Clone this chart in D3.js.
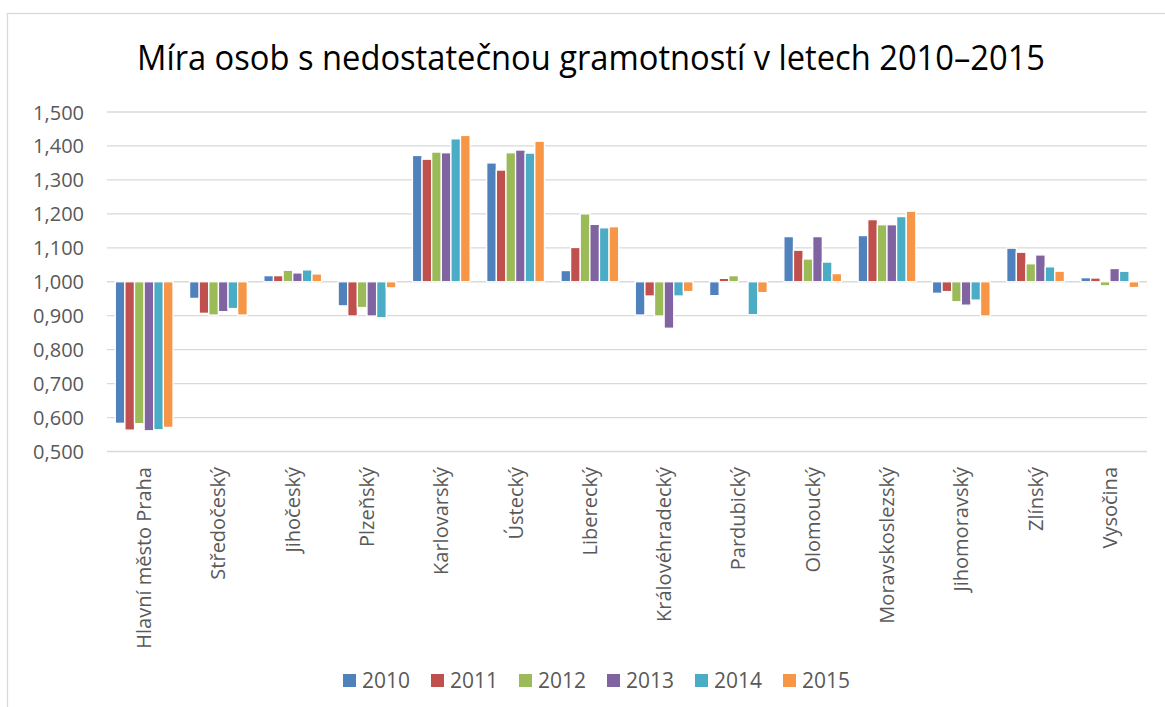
<!DOCTYPE html>
<html><head><meta charset="utf-8">
<script src="https://cdn.jsdelivr.net/npm/d3@7"></script>
<style>
html,body{margin:0;padding:0;background:#fff;}
svg{display:block;}
</style></head>
<body><svg id="chart" width="1165" height="707"></svg>
<script>
const title = "Míra osob s nedostatečnou gramotností v letech 2010–2015";
const categories = ["Hlavní město Praha","Středočeský","Jihočeský","Plzeňský","Karlovarský","Ústecký","Liberecký","Královéhradecký","Pardubický","Olomoucký","Moravskoslezský","Jihomoravský","Zlínský","Vysočina"];
const years = ["2010","2011","2012","2013","2014","2015"];
const colors = ["#4F81BD","#C0504D","#9BBB59","#8064A2","#4BACC6","#F79646"];
const s2010 = [0.583,0.951,1.018,0.929,1.372,1.350,1.033,0.902,0.959,1.133,1.136,0.966,1.099,1.012];
const s2011 = [0.563,0.907,1.018,0.899,1.361,1.329,1.101,0.958,1.010,1.093,1.183,0.971,1.087,1.011];
const s2012 = [0.582,0.902,1.034,0.924,1.382,1.380,1.200,0.899,1.018,1.067,1.168,0.941,1.053,0.988];
const s2013 = [0.561,0.912,1.026,0.899,1.380,1.388,1.169,0.863,1.000,1.133,1.168,0.931,1.079,1.039];
const s2014 = [0.564,0.921,1.035,0.894,1.421,1.379,1.159,0.958,0.903,1.058,1.192,0.946,1.044,1.031];
const s2015 = [0.571,0.902,1.023,0.982,1.431,1.414,1.162,0.971,0.968,1.024,1.208,0.899,1.031,0.983];
const series = [s2010,s2011,s2012,s2013,s2014,s2015];
const yTicks = [0.5,0.6,0.7,0.8,0.9,1.0,1.1,1.2,1.3,1.4,1.5];
const baseValue = 1.0;

const svg = d3.select("#chart");
const font = "'Open Sans', 'Noto Sans', sans-serif";
const grey = "#595959";

// outer border (top and left visible)
svg.append("rect").attr("x",7.5).attr("y",13.5).attr("width",1200).attr("height",720)
  .attr("fill","none").attr("stroke","#D9D9D9").attr("stroke-width",1.3);

const x0 = d3.scaleBand().domain(categories).range([107,1147]).paddingInner(0.223).paddingOuter(0.1115);
const x1 = d3.scaleBand().domain(years).range([0, x0.bandwidth()]);
const y = d3.scaleLinear().domain([0.5,1.5]).range([451.5,112]);
const color = d3.scaleOrdinal().domain(years).range(colors);
const fmt = v => d3.format(".3f")(v).replace(".", ",");

// gridlines
svg.append("g").selectAll("line").data(yTicks).join("line")
  .attr("x1",107).attr("x2",1147)
  .attr("y1",d=>y(d)).attr("y2",d=>y(d))
  .attr("stroke","#D9D9D9").attr("stroke-width",1.3);

// y axis labels
const yAxis = d3.axisLeft(y).tickValues(yTicks).tickFormat(fmt).tickSize(0).tickPadding(0);
const gy = svg.append("g").attr("transform","translate(84,0)").call(yAxis);
gy.select(".domain").remove();
gy.selectAll("text").attr("font-family",font).attr("font-size",20).attr("fill",grey).attr("dy","0.35em");

// bars
const groups = svg.append("g").selectAll("g").data(categories).join("g")
  .attr("transform",c=>`translate(${x0(c)},0)`);
groups.selectAll("rect").data((c,i)=>years.map((yr,j)=>({yr, v: series[j][i]}))).join("rect")
  .attr("x",d=>x1(d.yr)).attr("width",x1.bandwidth())
  .attr("y",d=>Math.min(y(d.v),y(baseValue)))
  .attr("height",d=>Math.abs(y(d.v)-y(baseValue)))
  .attr("fill",d=>color(d.yr))
  .attr("stroke","#fff").attr("stroke-width",1.3);

// category labels
const xAxis = d3.axisBottom(x0).tickSize(0).tickPadding(0);
const gx = svg.append("g").attr("transform","translate(0,467)").call(xAxis);
gx.select(".domain").remove();
gx.selectAll("text").attr("font-family",font).attr("font-size",20).attr("fill",grey)
  .attr("transform","rotate(-90)").attr("text-anchor","end").attr("x",0).attr("y",0).attr("dy","0.35em");

// title
svg.append("text").attr("x",591).attr("y",70).attr("text-anchor","middle")
  .attr("font-family",font).attr("font-size",35).attr("fill","#000")
  .attr("textLength",908).attr("lengthAdjust","spacingAndGlyphs")
  .text(title);

// legend
const leg = svg.append("g").selectAll("g").data(years).join("g")
  .attr("transform",(d,i)=>`translate(${343+i*88},0)`);
leg.append("rect").attr("x",0).attr("y",674).attr("width",13).attr("height",13).attr("fill",d=>color(d));
leg.append("text").attr("x",19).attr("y",688).attr("font-family",font).attr("font-size",21).attr("fill",grey).text(d=>d);
</script></body></html>
